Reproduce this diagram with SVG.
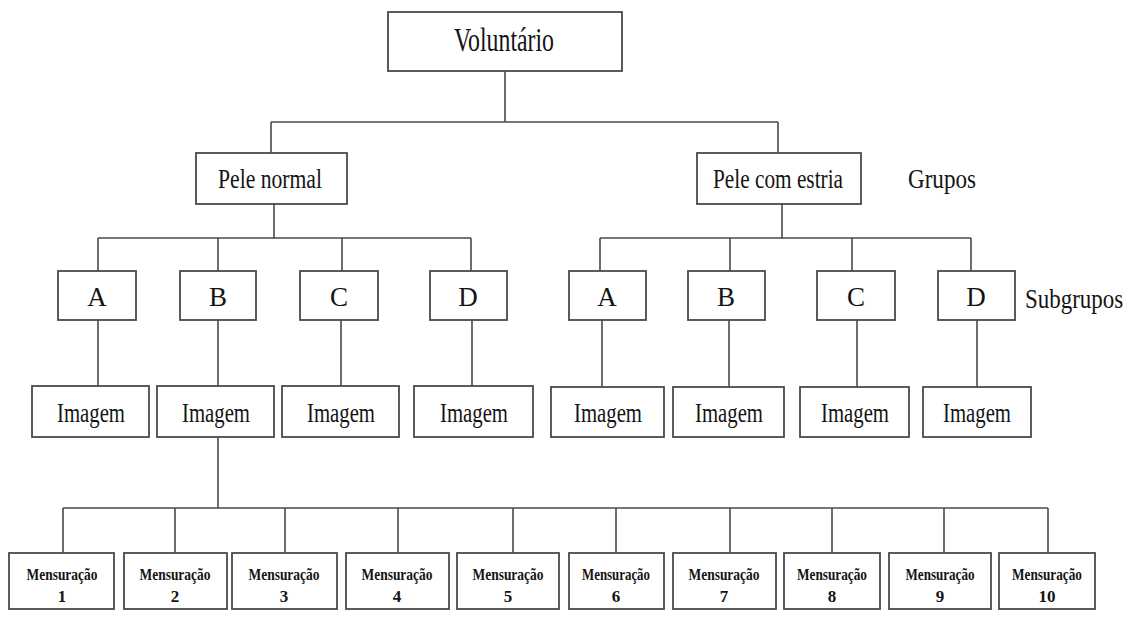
<svg xmlns="http://www.w3.org/2000/svg" width="1128" height="617" viewBox="0 0 1128 617">
  <style>
    .box { fill: #ffffff; stroke: #4a4a4a; stroke-width: 1.8; }
    .wire { fill: none; stroke: #4a4a4a; stroke-width: 1.6; }
    .lbl { font-family: "Liberation Serif", "Times New Roman", serif; font-size: 27px; fill: #141414; text-anchor: middle; }
    .big { font-size: 33px; }
    .side { text-anchor: start; }
    .m { font-family: "Liberation Serif", "Times New Roman", serif; font-size: 17px; font-weight: bold; fill: #141414; text-anchor: middle; }
  </style>

  <rect width="1128" height="617" fill="#ffffff"/>

  <!-- connectors -->
  <g id="connectors" class="wire">
    <path d="M505 71V122M271 122H778M271 122V153M778 122V153"/>
    <path d="M274 204V238M98 238H471M98 238V271M218 238V271M342 238V271M471 238V271"/>
    <path d="M782 204V238M600 238H971M600 238V271M730 238V271M852 238V271M971 238V271"/>
    <path d="M98 320V386M218 320V386M341 320V386M472 320V386"/>
    <path d="M602 320V387M729 320V387M857 320V387M977 320V387"/>
    <path d="M218 437V508M63 508H1048M63 508V553M175 508V553M285 508V553M398 508V553M513 508V553M616 508V553M730 508V553M832 508V553M944 508V553M1048 508V553"/>
  </g>

  <!-- root -->
  <g id="voluntario">
    <rect class="box" x="388" y="12" width="234" height="59"/>
    <text class="lbl big" x="504" y="51" textLength="100" lengthAdjust="spacingAndGlyphs">Voluntário</text>
  </g>

  <!-- groups -->
  <g id="pele-normal">
    <rect class="box" x="196" y="153" width="151" height="51"/>
    <text class="lbl" x="270" y="188" textLength="104" lengthAdjust="spacingAndGlyphs">Pele normal</text>
  </g>
  <g id="pele-estria">
    <rect class="box" x="697" y="153" width="164" height="51"/>
    <text class="lbl" x="778" y="188" textLength="130" lengthAdjust="spacingAndGlyphs">Pele com estria</text>
  </g>
  <g id="label-grupos">
    <text class="lbl side" x="908" y="188" textLength="68" lengthAdjust="spacingAndGlyphs">Grupos</text>
  </g>
  <g id="label-subgrupos">
    <!-- narrowed by a horizontal scale so it stays inside the right edge -->
    <text class="lbl side" transform="translate(1025 308) scale(0.85 1)">Subgrupos</text>
  </g>

  <!-- subgroups, normal skin -->
  <g id="n-a"><rect class="box" x="58" y="271" width="78" height="49"/><text class="lbl" x="97" y="306">A</text></g>
  <g id="n-b"><rect class="box" x="180" y="271" width="76" height="49"/><text class="lbl" x="218" y="306">B</text></g>
  <g id="n-c"><rect class="box" x="300" y="271" width="78" height="49"/><text class="lbl" x="339" y="306">C</text></g>
  <g id="n-d"><rect class="box" x="430" y="271" width="77" height="49"/><text class="lbl" x="468" y="306">D</text></g>

  <!-- subgroups, striated skin -->
  <g id="e-a"><rect class="box" x="569" y="271" width="77" height="49"/><text class="lbl" x="607" y="306">A</text></g>
  <g id="e-b"><rect class="box" x="688" y="271" width="77" height="49"/><text class="lbl" x="726" y="306">B</text></g>
  <g id="e-c"><rect class="box" x="817" y="271" width="78" height="49"/><text class="lbl" x="856" y="306">C</text></g>
  <g id="e-d"><rect class="box" x="938" y="271" width="77" height="49"/><text class="lbl" x="976" y="306">D</text></g>

  <!-- images -->
  <g id="img-n-a"><rect class="box" x="32" y="386" width="117" height="51"/><text class="lbl" x="91" y="422" textLength="68" lengthAdjust="spacingAndGlyphs">Imagem</text></g>
  <g id="img-n-b"><rect class="box" x="157" y="386" width="117" height="51"/><text class="lbl" x="216" y="422" textLength="68" lengthAdjust="spacingAndGlyphs">Imagem</text></g>
  <g id="img-n-c"><rect class="box" x="282" y="386" width="117" height="51"/><text class="lbl" x="341" y="422" textLength="68" lengthAdjust="spacingAndGlyphs">Imagem</text></g>
  <g id="img-n-d"><rect class="box" x="414" y="386" width="119" height="51"/><text class="lbl" x="474" y="422" textLength="68" lengthAdjust="spacingAndGlyphs">Imagem</text></g>
  <g id="img-e-a"><rect class="box" x="551" y="387" width="113" height="50"/><text class="lbl" x="608" y="422" textLength="68" lengthAdjust="spacingAndGlyphs">Imagem</text></g>
  <g id="img-e-b"><rect class="box" x="673" y="387" width="111" height="50"/><text class="lbl" x="729" y="422" textLength="68" lengthAdjust="spacingAndGlyphs">Imagem</text></g>
  <g id="img-e-c"><rect class="box" x="800" y="387" width="109" height="50"/><text class="lbl" x="855" y="422" textLength="68" lengthAdjust="spacingAndGlyphs">Imagem</text></g>
  <g id="img-e-d"><rect class="box" x="923" y="387" width="108" height="50"/><text class="lbl" x="977" y="422" textLength="68" lengthAdjust="spacingAndGlyphs">Imagem</text></g>

  <!-- measurements -->
  <g id="m1"><rect class="box" x="9" y="553" width="105" height="56"/><text class="m" x="62" y="580" textLength="71" lengthAdjust="spacingAndGlyphs">Mensuração</text><text class="m" x="62" y="602">1</text></g>
  <g id="m2"><rect class="box" x="124" y="553" width="103" height="56"/><text class="m" x="175" y="580" textLength="71" lengthAdjust="spacingAndGlyphs">Mensuração</text><text class="m" x="175" y="602">2</text></g>
  <g id="m3"><rect class="box" x="232" y="553" width="105" height="56"/><text class="m" x="284" y="580" textLength="71" lengthAdjust="spacingAndGlyphs">Mensuração</text><text class="m" x="284" y="602">3</text></g>
  <g id="m4"><rect class="box" x="346" y="553" width="103" height="56"/><text class="m" x="397" y="580" textLength="71" lengthAdjust="spacingAndGlyphs">Mensuração</text><text class="m" x="397" y="602">4</text></g>
  <g id="m5"><rect class="box" x="457" y="553" width="102" height="56"/><text class="m" x="508" y="580" textLength="71" lengthAdjust="spacingAndGlyphs">Mensuração</text><text class="m" x="508" y="602">5</text></g>
  <g id="m6"><rect class="box" x="569" y="553" width="95" height="56"/><text class="m" x="616" y="580" textLength="68" lengthAdjust="spacingAndGlyphs">Mensuração</text><text class="m" x="616" y="602">6</text></g>
  <g id="m7"><rect class="box" x="673" y="553" width="103" height="56"/><text class="m" x="724" y="580" textLength="71" lengthAdjust="spacingAndGlyphs">Mensuração</text><text class="m" x="724" y="602">7</text></g>
  <g id="m8"><rect class="box" x="784" y="553" width="96" height="56"/><text class="m" x="832" y="580" textLength="70" lengthAdjust="spacingAndGlyphs">Mensuração</text><text class="m" x="832" y="602">8</text></g>
  <g id="m9"><rect class="box" x="889" y="553" width="102" height="56"/><text class="m" x="940" y="580" textLength="69" lengthAdjust="spacingAndGlyphs">Mensuração</text><text class="m" x="940" y="602">9</text></g>
  <g id="m10"><rect class="box" x="999" y="553" width="96" height="56"/><text class="m" x="1047" y="580" textLength="70" lengthAdjust="spacingAndGlyphs">Mensuração</text><text class="m" x="1047" y="602">10</text></g>
</svg>
